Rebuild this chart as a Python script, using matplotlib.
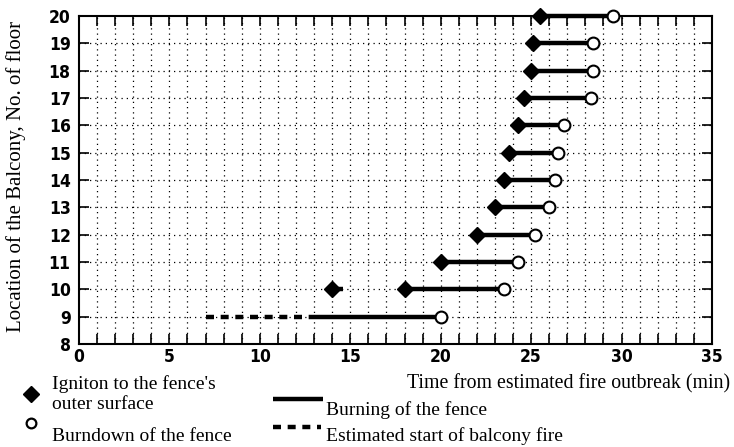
import matplotlib.pyplot as plt
from matplotlib.lines import Line2D
import numpy as np

# ── data ─────────────────────────────────────────────────────────────────────
floors   = [9, 10, 11, 12, 13, 14, 15, 16, 17, 18, 19, 20]
ignite   = [np.nan, 18.0, 20.0, 22.0, 23.0, 23.5, 23.8, 24.3, 24.6, 25.0, 25.1, 25.5]
burndown = [20.0, 23.5, 24.3, 25.2, 26.0, 26.3, 26.5, 26.8, 28.3, 28.4, 28.4, 29.5]

# floor 9: estimated start (dashed) then burning from 13 min
est_floor, est_start, est_burn = 9, 7.0, 13.0
# floor 10: early ignition with short burning
early_floor, early_ignite, early_end = 10, 14.0, 14.6

xticks = [0, 5, 10, 15, 20, 25, 30, 35]
yticks = list(range(8, 21))

SERIF = 'Liberation Serif'
FS = 14
TICKFONT = dict(family='DejaVu Sans', weight='bold', stretch='condensed', size=12.5)
DASH = (0, (1.8, 1.5))

fig = plt.figure(figsize=(7.34, 4.47), dpi=100)
ax = fig.add_axes([0.1076, 0.2304, 0.8624, 0.7336])

# grid
for x in range(1, 35):
    ax.axvline(x, color='black', lw=0.9, ls=(0, (1, 3.2)), zorder=1)
for y in range(9, 20):
    ax.axhline(y, color='black', lw=0.9, ls=(0, (1, 3.2)), zorder=1)

# burning segments
for f, ig, bd in zip(floors, ignite, burndown):
    start = est_burn if f == est_floor else ig
    ax.plot([start, bd], [f, f], color='black', lw=3.2, solid_capstyle='butt', zorder=3,
             clip_on=False)
ax.plot([est_start, est_burn], [est_floor, est_floor], color='black', lw=3.2,
        ls=DASH, zorder=3)
ax.plot([early_ignite, early_end], [early_floor, early_floor], color='black', lw=3.2,
        solid_capstyle='butt', zorder=3)

# markers
ax.plot(ignite, floors, 'D', color='black', ms=8, zorder=4, clip_on=False)
ax.plot([early_ignite], [early_floor], 'D', color='black', ms=8, zorder=4)
ax.plot(burndown, floors, 'o', mfc='white', mec='black', mew=1.5, ms=8.5, zorder=5,
        clip_on=False)

ax.set_xlim(0, 35)
ax.set_ylim(8, 20)
ax.set_xticks(xticks)
ax.set_xticks(range(0, 36), minor=True)
ax.set_yticks(yticks)
ax.tick_params(axis='both', which='both', direction='in', top=True, right=True,
               length=7, width=1.2, pad=4)
ax.tick_params(axis='x', which='major', pad=3)
ax.tick_params(axis='y', which='major', pad=6)
for lab in ax.get_xticklabels() + ax.get_yticklabels():
    lab.set_fontproperties(TICKFONT)
for s in ax.spines.values():
    s.set_linewidth(1.5)

fig.text(0.022, 0.606, 'Location of the Balcony, No. of floor', family=SERIF, fontsize=15,
         rotation=90, ha='center', va='center')
fig.text(0.995, 0.141, 'Time from estimated fire outbreak (min)', family=SERIF,
         fontsize=14.3, ha='right', va='center')

# legend drawn by hand
fig.add_artist(Line2D([0.042], [0.119], marker='D', color='black', ms=8))
fig.text(0.071, 0.141, "Igniton to the fence's", family=SERIF, fontsize=FS, va='center')
fig.text(0.071, 0.094, 'outer surface', family=SERIF, fontsize=FS, va='center')
fig.add_artist(Line2D([0.042], [0.054], marker='o', mfc='white', mec='black', mew=1.6,
                      ms=7))
fig.text(0.071, 0.024, 'Burndown of the fence', family=SERIF, fontsize=FS, va='center')

fig.add_artist(Line2D([0.372, 0.440], [0.107, 0.107], color='black', lw=3.2,
                      solid_capstyle='butt'))
fig.text(0.444, 0.083, 'Burning of the fence', family=SERIF, fontsize=FS, va='center')
fig.add_artist(Line2D([0.372, 0.437], [0.045, 0.045], color='black', lw=3.2, ls=DASH))
fig.text(0.444, 0.024, 'Estimated start of balcony fire', family=SERIF, fontsize=FS,
         va='center')

fig.savefig('out.png', dpi=100, facecolor='white')
